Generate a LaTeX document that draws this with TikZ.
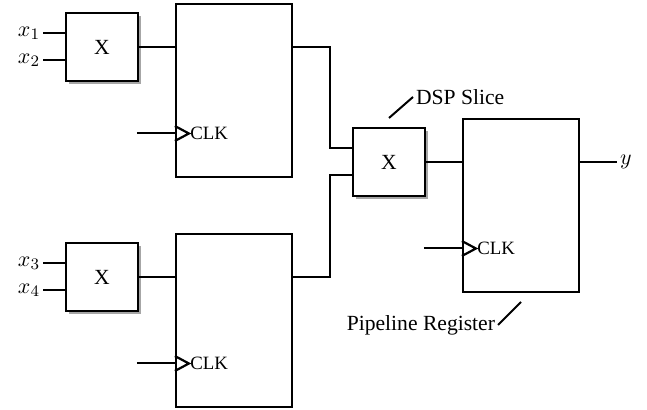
\documentclass[tikz,border=0pt]{standalone}
\usepackage[no-math]{fontspec}
\setmainfont{Liberation Serif}
\usetikzlibrary{calc,shadows}

\begin{document}
\begin{tikzpicture}[
  x=0.5pt, y=-0.5pt,
  font=\fontsize{10.8}{12}\selectfont,
  mul/.style={draw, line width=1.1pt, fill=white, minimum width=36pt, minimum height=34pt, inner sep=0pt,
    drop shadow={shadow xshift=1.4pt, shadow yshift=-1.4pt, fill=black!35, opacity=1}},
  reg/.style={draw, line width=1.1pt, minimum width=58pt, minimum height=86.5pt, inner sep=0pt},
  wire/.style={line width=1pt},
  clk/.style={font=\fontsize{9.4}{11}\selectfont, inner sep=0.5pt, anchor=west},
  lbl/.style={inner sep=1pt}
]
\useasboundingbox (0,0) rectangle (647,410);

% multipliers and registers
\node[mul] (mul1) at (102,47) {X};
\node[mul] (mul2) at (102,277) {X};
\node[reg] (reg1) at (234,90.5) {};
\node[reg] (reg2) at (234,320.5) {};
\node[mul] (dsp) at (389,162) {X};
\node[reg] (reg3) at (521,205.5) {};

% inputs
\coordinate (x1) at (43,33);
\coordinate (x2) at (43,60);
\coordinate (x3) at (43,263);
\coordinate (x4) at (43,290);
\draw[wire] (x1) node[left, lbl] {$x_1$} -- (x1 -| mul1.west);
\draw[wire] (x2) node[left, lbl] {$x_2$} -- (x2 -| mul1.west);
\draw[wire] (x3) node[left, lbl] {$x_3$} -- (x3 -| mul2.west);
\draw[wire] (x4) node[left, lbl] {$x_4$} -- (x4 -| mul2.west);

% wires
\coordinate (bus) at (330,0);
\coordinate (d1) at ($(dsp.west)+(0,-13.5)$);
\coordinate (d2) at ($(dsp.west)+(0,13.5)$);
\draw[wire] (mul1.east) -- (mul1.east -| reg1.west);
\draw[wire] (mul2.east) -- (mul2.east -| reg2.west);
\draw[wire] (reg1.east |- mul1) -| (d1 -| bus) -- (d1);
\draw[wire] (reg2.east |- mul2) -| (d2 -| bus) -- (d2);
\draw[wire] (dsp.east) -- (dsp.east -| reg3.west);
\coordinate (yout) at (617,162);
\draw[wire] (reg3.east |- yout) -- (yout) node[right, lbl] {$y$};

% clock inputs
\foreach \r in {reg1,reg2,reg3} {
  \coordinate (ck) at ($(\r.west)+(0,43)$);
  \coordinate (ckin) at ($(ck)+(-38,0)$);
  \draw[wire] (ckin) -- (ck);
  \draw[line width=1.1pt] ($(ck)+(0,-7.5)$) -- ($(ck)+(14,0)$) coordinate (tip) -- ($(ck)+(0,7.5)$);
  \node[clk] at (tip) {CLK};
}

% labels
\coordinate (ds0) at (389,118);
\coordinate (ds1) at (413,97);
\draw[wire] (ds0) -- (ds1) node[right, lbl] {DSP Slice};
\coordinate (pr0) at (521,302);
\coordinate (pr1) at (498,325);
\draw[wire] (pr0) -- (pr1) node[left, lbl] {Pipeline Register};
\end{tikzpicture}
\end{document}
